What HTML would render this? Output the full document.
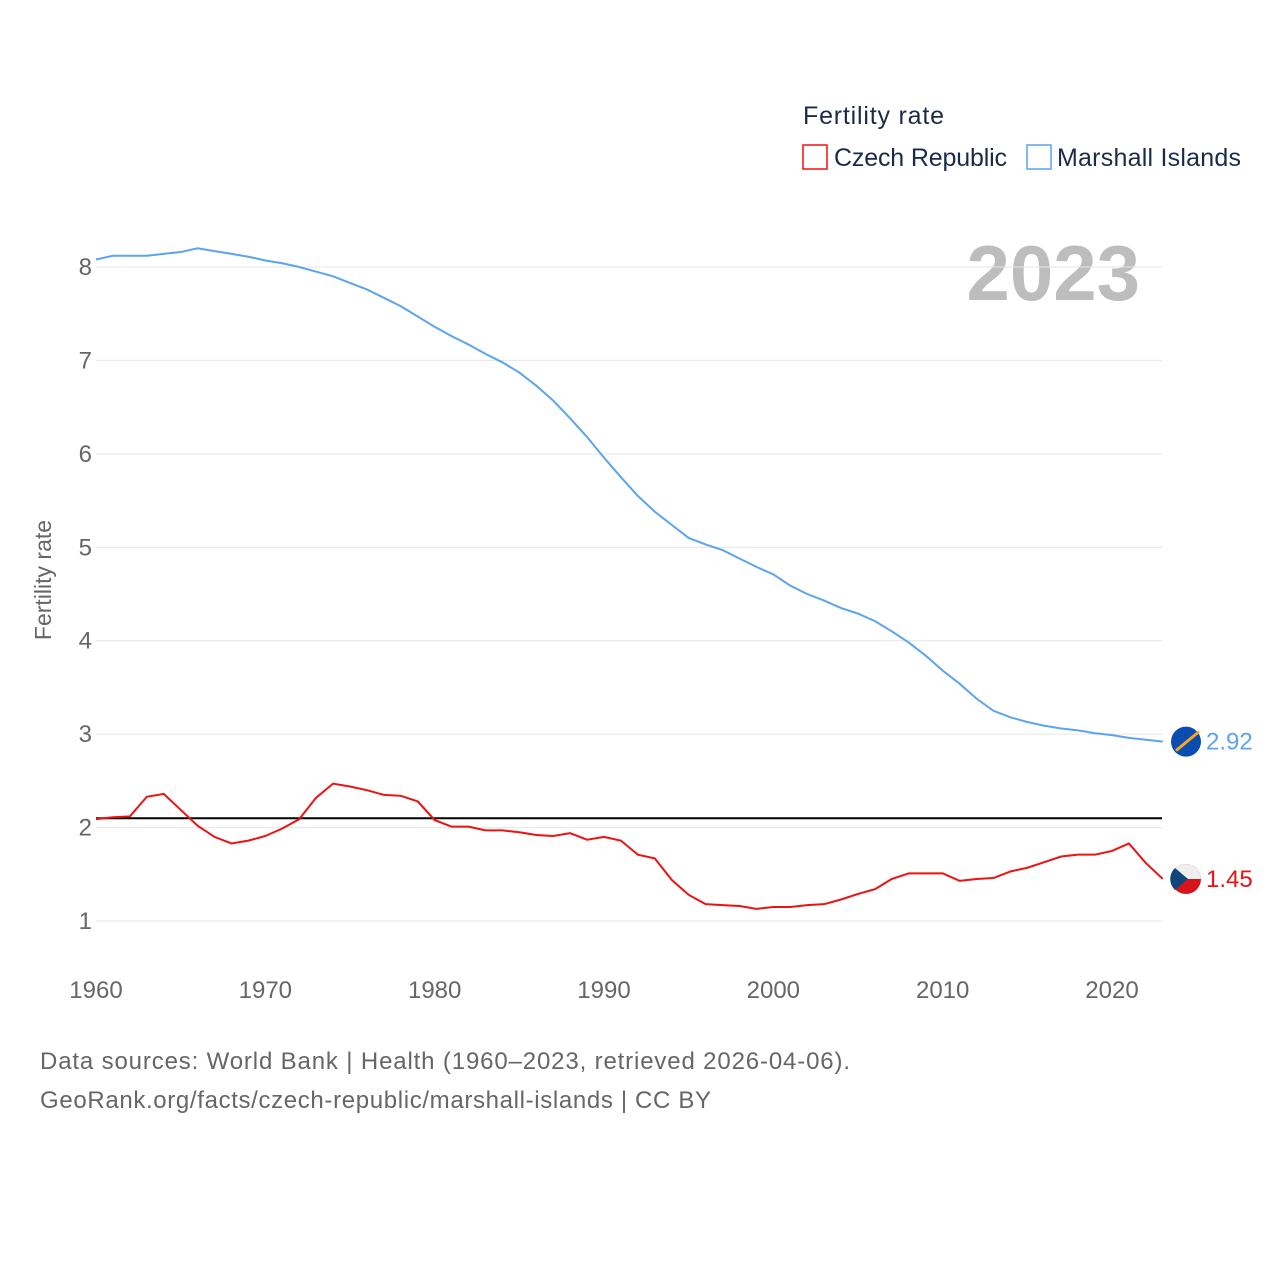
<!DOCTYPE html>
<html><head><meta charset="utf-8"><style>
body{margin:0;background:#fff;font-family:"Liberation Sans",sans-serif;}
svg text{font-family:"Liberation Sans",sans-serif;}
</style></head><body>
<svg id="chart" width="1280" height="1280" viewBox="0 0 1280 1280">
<text x="803" y="124" font-size="25" fill="#1a2b4a" textLength="141">Fertility rate</text>
<g><rect x="803" y="145" width="24" height="24" fill="none" stroke="#ee1111" stroke-width="1.5"/><text x="834" y="166" font-size="25" fill="#1a2b4a" textLength="173">Czech Republic</text></g>
<g><rect x="1027" y="145" width="24" height="24" fill="none" stroke="#5ba4ee" stroke-width="1.5"/><text x="1057" y="166" font-size="25" fill="#1a2b4a" textLength="184">Marshall Islands</text></g>
<text x="1140" y="300" text-anchor="end" font-size="78" font-weight="bold" fill="#bdbdbd">2023</text>
<text transform="translate(51,580) rotate(-90)" text-anchor="middle" font-size="23" fill="#666">Fertility rate</text>
<g id="grid"></g><g id="ticks"></g><g id="lines"></g>
<text x="40" y="1069" font-size="24" fill="#666" textLength="810">Data sources: World Bank | Health (1960–2023, retrieved 2026-04-06).</text>
<text x="40" y="1108" font-size="24" fill="#666" textLength="671">GeoRank.org/facts/czech-republic/marshall-islands | CC BY</text>
</svg>
<script>
const years=[];for(let y=1960;y<=2023;y++)years.push(y);
const marshall=[8.08,8.12,8.12,8.12,8.14,8.16,8.2,8.17,8.14,8.11,8.07,8.04,8.0,7.95,7.9,7.83,7.76,7.67,7.58,7.47,7.36,7.26,7.17,7.07,6.98,6.87,6.73,6.57,6.38,6.18,5.96,5.75,5.55,5.38,5.24,5.1,5.03,4.97,4.88,4.79,4.71,4.59,4.5,4.43,4.35,4.29,4.21,4.1,3.98,3.84,3.68,3.54,3.38,3.25,3.18,3.13,3.09,3.06,3.04,3.01,2.99,2.96,2.94,2.92];
const czech=[2.09,2.11,2.12,2.33,2.36,2.19,2.02,1.9,1.83,1.86,1.91,1.99,2.09,2.32,2.47,2.44,2.4,2.35,2.34,2.28,2.08,2.01,2.01,1.97,1.97,1.95,1.92,1.91,1.94,1.87,1.9,1.86,1.71,1.67,1.44,1.28,1.18,1.17,1.16,1.13,1.15,1.15,1.17,1.18,1.23,1.29,1.34,1.45,1.51,1.51,1.51,1.43,1.45,1.46,1.53,1.57,1.63,1.69,1.71,1.71,1.75,1.83,1.62,1.45];
const yTicks=[1,2,3,4,5,6,7,8];
const xTicks=[1960,1970,1980,1990,2000,2010,2020];
const replacement=[2.1];
const NS="http://www.w3.org/2000/svg";
const X=v=>96+(v-1960)*(1016/60);
const Y=v=>921-(v-1)*(654/7);
function mk(tag,attrs,parent){const e=document.createElementNS(NS,tag);for(const k in attrs)e.setAttribute(k,attrs[k]);document.getElementById(parent).appendChild(e);return e;}
yTicks.forEach(t=>{
 const l=mk('line',{x1:96,x2:1162,y1:Y(t),y2:Y(t),stroke:'#e6e6e6','stroke-width':1},'grid');
 
 
 const tx=mk('text',{x:92,y:Y(t)+8,'text-anchor':'end','font-size':24,fill:'#666'},'ticks');tx.textContent=t;
 
 
});
xTicks.forEach(t=>{
 const tx=mk('text',{x:X(t),y:998,'text-anchor':'middle','font-size':24,fill:'#666'},'ticks');tx.textContent=t;
 
 
});
replacement.forEach(v=>{
 const l=mk('line',{x1:96,x2:1162,y1:Y(v),y2:Y(v),stroke:'#000','stroke-width':2},'lines');
 
 
});
function series(data,color,name){
 const p=mk('polyline',{points:data.map((v,i)=>X(years[i])+','+Y(v)).join(' '),fill:'none',stroke:color,'stroke-width':2},'lines');
 
 
 const last=data[data.length-1];
 const cy=Y(last);
 const c=mk('circle',{cx:1186,cy:cy,r:15,fill:name==='czech'?'#d7141a':'#0a4cb0'},'lines');
 
 
 if(name==='czech'){const h=mk('path',{d:`M1171 ${cy} A15 15 0 0 1 1201 ${cy} Z`,fill:'#eee'},'lines');
  const t=mk('path',{d:`M1175 ${cy-11} L1188 ${cy} L1175 ${cy+11} A15 15 0 0 1 1175 ${cy-11} Z`,fill:'#11457e'},'lines');}
 else{const s=mk('line',{x1:1176,y1:cy+9,x2:1199,y2:cy-10,stroke:'#f5a623','stroke-width':3},'lines');}
 const tx=mk('text',{x:1206,y:cy+8,'font-size':24,fill:color},'lines');tx.textContent=last.toFixed(2);
 
 
}
series(marshall,'#5ba4ee','marshall');
series(czech,'#ee1111','czech');
</script>
</body></html>
